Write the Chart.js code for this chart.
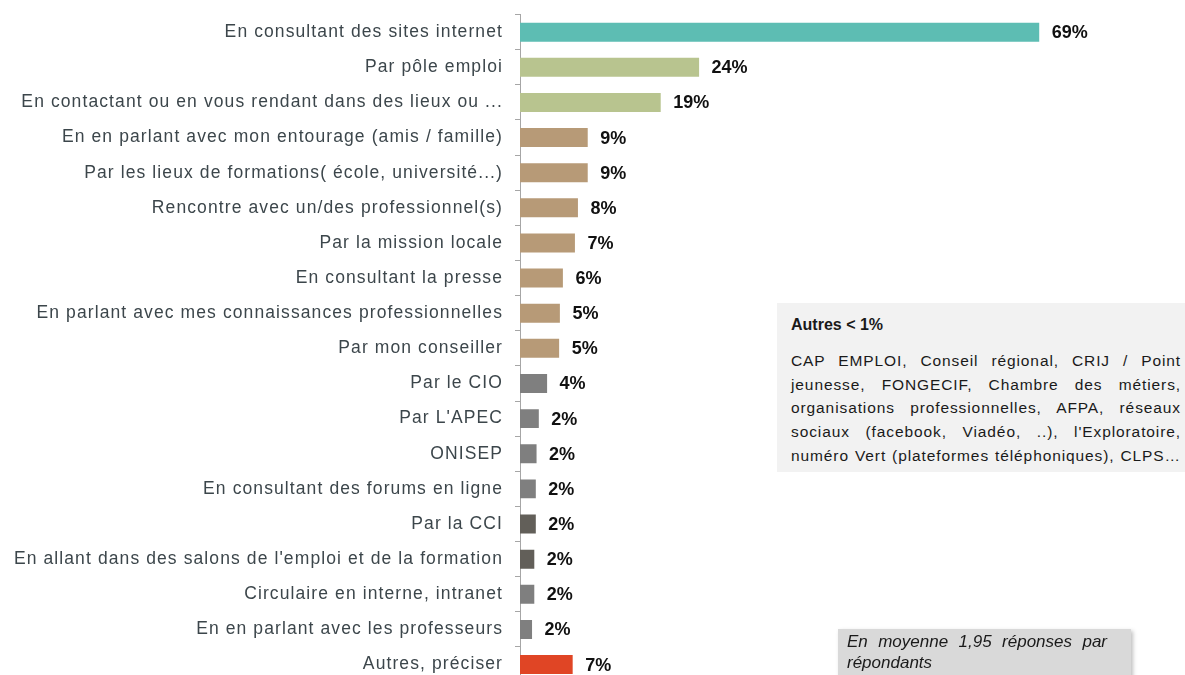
<!DOCTYPE html>
<html><head><meta charset="utf-8">
<script src="https://cdn.jsdelivr.net/npm/chart.js@4.4.1/dist/chart.umd.min.js"></script>
<style>
html,body{margin:0;padding:0;background:#fff;overflow:hidden;width:1185px;height:675px;}
#wrap{position:absolute;left:0;top:0;width:1185px;height:700px;}
.box{position:absolute;font-family:"Liberation Sans",Arial,sans-serif;color:#1a1a1a;}
#autres{left:777px;top:303px;width:408px;height:169px;background:#f2f2f2;}
#autres .t{position:absolute;left:14px;top:12px;font-weight:bold;font-size:16px;line-height:20px;}
#autres .b{position:absolute;left:14px;top:46px;width:390px;font-size:15.5px;line-height:23.7px;letter-spacing:0.9px;}
.j{text-align:justify;text-align-last:justify;white-space:nowrap;}
#moy{left:838px;top:629px;width:293px;height:60px;background:#d9d9d9;box-shadow:2px 2px 4px rgba(0,0,0,0.25);}
#moy .b{position:absolute;left:9px;top:2px;width:260px;font-size:17px;line-height:21px;font-style:italic;}
</style></head>
<body>
<div id="wrap"><canvas id="c"></canvas></div>
<div class="box" id="autres">
  <div class="t">Autres &lt; 1%</div>
  <div class="b">
    <div class="j">CAP EMPLOI, Conseil régional, CRIJ / Point</div>
    <div class="j">jeunesse, FONGECIF, Chambre des métiers,</div>
    <div class="j">organisations professionnelles, AFPA, réseaux</div>
    <div class="j">sociaux (facebook, Viadéo, ..), l'Exploratoire,</div>
    <div class="j" style="word-spacing:-2px">numéro Vert (plateformes téléphoniques), CLPS…</div>
  </div>
</div>
<div class="box" id="moy">
  <div class="b">
    <div class="j">En moyenne 1,95 réponses par</div>
    <div>répondants</div>
  </div>
</div>
<script>
const categories = [
  "En consultant des sites internet",
  "Par pôle emploi",
  "En contactant ou en vous rendant dans des lieux ou ...",
  "En en parlant avec mon entourage (amis / famille)",
  "Par les lieux de formations( école, université...)",
  "Rencontre avec un/des professionnel(s)",
  "Par la mission locale",
  "En consultant la presse",
  "En parlant avec mes connaissances professionnelles",
  "Par mon conseiller",
  "Par le CIO",
  "Par L'APEC",
  "ONISEP",
  "En consultant des forums en ligne",
  "Par la CCI",
  "En allant dans des salons de l'emploi et de la formation",
  "Circulaire en interne, intranet",
  "En en parlant avec les professeurs",
  "Autres, préciser"
];
const values = [69, 23.8, 18.7, 9.0, 9.0, 7.7, 7.3, 5.7, 5.3, 5.2, 3.6, 2.5, 2.2, 2.1, 2.1, 1.9, 1.9, 1.6, 7.0];
const valueLabels = ["69%","24%","19%","9%","9%","8%","7%","6%","5%","5%","4%","2%","2%","2%","2%","2%","2%","2%","7%"];
const barColors = ["#5dbdb3","#b8c48f","#b8c48f","#b79a77","#b79a77","#b79a77","#b79a77","#b79a77","#b79a77","#b79a77",
  "#7f7f7f","#7f7f7f","#7f7f7f","#7f7f7f","#625f59","#625f59","#7f7f7f","#7f7f7f","#e04525"];

const spacingPlugin = {
  id:'spacing',
  beforeDraw(chart){ chart.ctx.letterSpacing = '1.1px'; },
  afterDraw(chart){ chart.ctx.letterSpacing = '0px'; }
};
const valueLabelsPlugin = {
  id:'valueLabels',
  afterDatasetsDraw(chart){
    const ctx = chart.ctx;
    const meta = chart.getDatasetMeta(0);
    ctx.save();
    ctx.letterSpacing = '0px';
    ctx.font = 'bold 18px "Liberation Sans", Arial, sans-serif';
    ctx.fillStyle = '#111';
    ctx.textBaseline = 'middle';
    ctx.textAlign = 'left';
    meta.data.forEach((bar, i) => { ctx.fillText(valueLabels[i], bar.x + 12.5, bar.y + 1); });
    ctx.restore();
  }
};

new Chart(document.getElementById('c'), {
  type:'bar',
  data:{ labels:categories, datasets:[{ data:values, backgroundColor:barColors, borderWidth:0,
    barPercentage:0.54, categoryPercentage:1.0 }]},
  options:{
    indexAxis:'y',
    responsive:true, maintainAspectRatio:false, animation:false,
    layout:{ padding:{ top:14.6, bottom:17.9, left:0, right:63 } },
    plugins:{ legend:{display:false}, tooltip:{enabled:false}, title:{display:false} },
    scales:{
      x:{ display:false, min:0, max:80 },
      y:{
        afterFit(scale){ scale.width = 520; scale.paddingTop = 0; scale.paddingBottom = 0; },
        grid:{ display:true, drawOnChartArea:false, drawTicks:true, tickLength:5, color:'#a6a6a6', offset:true },
        border:{ display:true, color:'#a6a6a6', width:1 },
        ticks:{ autoSkip:false, padding:12, color:'#3c464b',
          font:{ family:'"Liberation Sans", Arial, sans-serif', size:17.5 } }
      }
    }
  },
  plugins:[spacingPlugin, valueLabelsPlugin]
});
</script>
</body></html>
